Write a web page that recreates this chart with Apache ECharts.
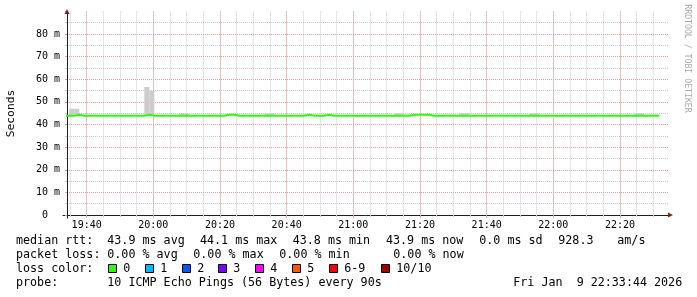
<!DOCTYPE html>
<html><head><meta charset="utf-8">
<script src="https://cdn.jsdelivr.net/npm/echarts@6/dist/echarts.min.js"></script>
<style>html,body{margin:0;padding:0;background:#fff}#c{width:697px;height:297px}</style>
</head><body><div id="c"></div>
<script>
// ---------------- data ----------------
// time axis is in minutes after 19:00; samples every 90 s
const sampleStartMin = 33.29;
const sampleStepMin = 1.5;
// median rtt per sample (ms)
const medianRtt = [
  43.9,43.9,44.3,43.9,43.9,43.9,43.9,43.9,43.9,43.9,
  43.9,43.9,43.9,43.9,43.9,43.9,44.3,43.9,43.9,43.9,
  43.9,43.9,43.9,43.9,43.9,43.9,43.9,43.9,43.9,43.9,
  43.9,43.9,44.3,44.3,43.9,43.9,43.9,43.9,43.9,43.9,
  43.9,43.9,43.9,43.9,43.9,43.9,43.9,43.9,44.3,43.9,
  43.9,43.9,44.3,43.9,43.9,43.9,43.9,43.9,43.9,43.9,
  43.9,43.9,43.9,43.9,43.9,43.9,43.9,43.9,43.9,44.3,
  44.3,44.3,44.3,43.9,43.9,43.9,43.9,43.9,43.9,43.9,
  43.9,43.9,43.9,43.9,43.9,43.9,43.9,43.9,43.9,43.9,
  43.9,43.9,43.9,43.9,43.9,43.9,43.9,43.9,43.9,43.9,
  43.9,43.9,43.9,43.9,43.9,43.9,43.9,43.9,43.9,43.9,
  43.9,43.9,43.9,43.9,43.9,43.9,43.9,43.9,43.9
];
// highest ping per sample (ms) - top of the smoke
const smokeMax = [
  43.9,47.0,47.0,43.9,43.9,43.9,43.9,43.9,43.9,43.9,
  43.9,43.9,43.9,43.9,43.9,43.9,56.6,54.9,43.9,43.9,
  43.9,43.9,43.9,44.9,44.9,43.9,43.9,43.9,43.9,43.9,
  43.9,43.9,43.9,43.9,43.9,43.9,43.9,43.9,43.9,43.9,
  45.0,45.0,43.9,43.9,43.9,43.9,43.9,43.9,43.9,43.9,
  43.9,43.9,43.9,43.9,43.9,43.9,43.9,43.9,43.9,43.9,
  43.9,43.9,43.9,43.9,43.9,43.9,45.0,45.0,43.9,43.9,
  43.9,43.9,43.9,43.9,43.9,43.9,43.9,43.9,43.9,45.0,
  45.0,43.9,43.9,43.9,43.9,43.9,43.9,43.9,43.9,43.9,
  43.9,43.9,43.9,45.0,45.0,43.9,43.9,43.9,43.9,43.9,
  43.9,43.9,43.9,43.9,43.9,43.9,43.9,43.9,43.9,43.9,
  43.9,43.9,43.9,43.9,45.0,45.0,43.9,43.9,43.9
];
const xRange = [34.1, 214.4];
const yRange = [0, 90];
const minorXTicks = [35, 210, 5];
const majorXTicks = [40, 200, 20];
const rttLabel = 'median rtt:';
const rttStats = ['43.9 ms avg','44.1 ms max','43.8 ms min','43.9 ms now','0.0 ms sd','928.3','am/s'];
const lossLabel = 'packet loss:';
const lossStats = ['0.00 % avg','0.00 % max','0.00 % min','0.00 % now'];
const lossColorLabel = 'loss color:';
const lossLabels = ['0','1','2','3','4','5','6-9','10/10'];
const lossColors = ['#26ff00','#00b8ff','#0059ff','#7e00ff','#ff00ff','#ff5500','#ff0000','#a00000'];
const probeLabel = 'probe:';
const probeText = '10 ICMP Echo Pings (56 Bytes) every 90s';
const dateText = 'Fri Jan  9 22:33:44 2026';
const yTitle = 'Seconds';
const watermark = 'RRDTOOL / TOBI OETIKER';

// ---------------- layout / style ----------------
const MONO = '"DejaVu Sans Mono", monospace';
const GRID_MINOR = '#cacaca';
const GRID_MAJOR = '#e99a9a';
const AXIS = '#1f1f1f';
const ARROW = '#801f1f';
const LINE = '#26ff00';
const SMOKE = '#cccccc';
const PX_PER_MIN = 601 / (xRange[1] - xRange[0]);
const PLOT_LEFT = 67, PLOT_TOP = 11.4, PLOT_H = 203.6;
const px = t => PLOT_LEFT + (t - xRange[0]) * PX_PER_MIN;
const rowY = [240.8, 254.8, 268.8, 282.8];
const rttX = [107.3, 200, 292.7, 386, 479.3, 558.3, 617.3];
const lossX = [107.3, 193.3, 279.3, 393.3];
const boxX = [108.5, 145.5, 182.5, 218.5, 255.5, 292.5, 329.5, 381.5];
const TXT = 11.7;

const fmtTime = v => (19 + Math.floor(v / 60)) + ':' + String(v % 60).padStart(2, '0');

const times = medianRtt.map((_, i) => sampleStartMin + i * sampleStepMin);
const lineData = medianRtt.map((v, i) => [times[i], v]);
lineData.push([times[times.length - 1] + sampleStepMin, medianRtt[medianRtt.length - 1]]);
const smokeData = smokeMax.map((v, i) => [times[i], times[i] + sampleStepMin, medianRtt[i], v])
  .filter(d => d[3] > d[2]);

function txt(text, x, y, extra) {
  return Object.assign({ type: 'text', x: x, y: y, silent: true,
    style: Object.assign({ text: text, font: TXT + 'px ' + MONO, fill: '#000', verticalAlign: 'middle', align: 'left' }, extra || {}) });
}
const graphics = [];
graphics.push(txt(rttLabel, 16, rowY[0]));
rttStats.forEach((s, i) => graphics.push(txt(s, rttX[i], rowY[0])));
graphics.push(txt(lossLabel, 16, rowY[1]));
lossStats.forEach((s, i) => graphics.push(txt(s, lossX[i], rowY[1])));
graphics.push(txt(lossColorLabel, 16, rowY[2]));
lossLabels.forEach((s, i) => {
  graphics.push({ type: 'rect', silent: true, shape: { x: boxX[i], y: 264.5, width: 8, height: 8 },
    style: { fill: lossColors[i], stroke: '#000', lineWidth: 1 } });
  graphics.push(txt(s, boxX[i] + 14.8, rowY[2]));
});
graphics.push(txt(probeLabel, 16, rowY[3]));
graphics.push(txt(probeText, 107.3, rowY[3]));
graphics.push(txt(dateText, 513.3, rowY[3]));
graphics.push({ type: 'text', x: 10.7, y: 113.5, rotation: Math.PI / 2, silent: true,
  style: { text: yTitle, font: '11.3px ' + MONO, fill: '#000', align: 'center', verticalAlign: 'middle' } });
graphics.push({ type: 'text', x: 687.5, y: 58.5, rotation: -Math.PI / 2, silent: true,
  style: { text: watermark, font: '8.2px ' + MONO, fill: '#ababab', align: 'center', verticalAlign: 'middle' } });

const gridBase = { top: PLOT_TOP, height: PLOT_H, outerBoundsMode: 'none', containLabel: false };
const off = { show: false };
const hiddenY = (g) => ({ type: 'value', gridIndex: g, min: 0, max: 1, show: false });

const option = {
  backgroundColor: '#ffffff',
  animation: false,
  grid: [
    Object.assign({ left: PLOT_LEFT, width: 601 }, gridBase),
    Object.assign({ left: px(minorXTicks[0]), width: px(minorXTicks[1]) - px(minorXTicks[0]) }, gridBase),
    Object.assign({ left: px(majorXTicks[0]), width: px(majorXTicks[1]) - px(majorXTicks[0]) }, gridBase),
    { left: 63, width: 605, top: PLOT_TOP, height: 218 - PLOT_TOP, outerBoundsMode: 'none', containLabel: false }
  ],
  xAxis: [
    { type: 'value', gridIndex: 0, min: xRange[0], max: xRange[1], show: false },
    { type: 'value', gridIndex: 1, position: 'bottom', min: minorXTicks[0], max: minorXTicks[1], interval: minorXTicks[2],
      axisLine: { show: false, onZero: false }, axisLabel: off,
      axisTick: { show: true, length: 2, lineStyle: { color: GRID_MINOR } },
      splitLine: { show: true, showMinLine: true, showMaxLine: true, lineStyle: { color: GRID_MINOR, width: 1, type: [1, 1] } } },
    { type: 'value', gridIndex: 2, position: 'bottom', min: majorXTicks[0], max: majorXTicks[1], interval: majorXTicks[2],
      axisLine: { show: false, onZero: false },
      axisTick: { show: true, length: 3, lineStyle: { color: GRID_MAJOR } },
      axisLabel: { show: true, formatter: fmtTime, margin: 5, fontSize: 10, fontFamily: MONO, color: '#000',
        showMinLabel: true, showMaxLabel: true, hideOverlap: false },
      splitLine: { show: true, showMinLine: true, showMaxLine: true, lineStyle: { color: GRID_MAJOR, width: 1, type: [1, 1] } } },
    { type: 'value', gridIndex: 3, position: 'bottom', offset: -3, min: 0, max: 1,
      axisLine: { show: true, onZero: false, lineStyle: { color: AXIS, width: 1 } },
      axisTick: off, axisLabel: off, splitLine: off },
    { type: 'value', gridIndex: 3, position: 'bottom', offset: -3, min: 0, max: 1,
      axisLine: { show: true, onZero: false, symbol: ['none', 'triangle'], symbolSize: [5, 5], symbolOffset: [0, 2.5],
        lineStyle: { color: ARROW, width: 0 } },
      axisTick: off, axisLabel: off, splitLine: off }
  ],
  yAxis: [
    { type: 'value', gridIndex: 0, position: 'left', min: yRange[0], max: yRange[1], interval: 5,
      axisLine: { show: false, onZero: false }, axisLabel: off,
      axisTick: { show: true, length: 2, lineStyle: { color: GRID_MINOR } },
      splitLine: { show: true, showMinLine: false, showMaxLine: false, lineStyle: { color: GRID_MINOR, width: 1, type: [1, 1] } } },
    { type: 'value', gridIndex: 0, position: 'left', min: yRange[0], max: yRange[1], interval: 10,
      axisLine: { show: false, onZero: false },
      axisTick: { show: true, length: 2, lineStyle: { color: GRID_MAJOR } },
      axisLabel: { show: true, margin: 7, fontSize: 10, fontFamily: MONO, color: '#000',
        showMinLabel: true, showMaxLabel: false, hideOverlap: false,
        formatter: v => v === 0 ? '0  ' : v + ' m' },
      splitLine: { show: true, showMinLine: false, showMaxLine: false, lineStyle: { color: GRID_MAJOR, width: 1, type: [1, 1] } } },
    hiddenY(1),
    hiddenY(2),
    { type: 'value', gridIndex: 3, position: 'left', offset: -4, min: 0, max: 1,
      axisLine: { show: true, onZero: false, lineStyle: { color: AXIS, width: 1 } },
      axisTick: off, axisLabel: off, splitLine: off },
    { type: 'value', gridIndex: 3, position: 'left', offset: -4, min: 0, max: 1,
      axisLine: { show: true, onZero: false, symbol: ['none', 'triangle'], symbolSize: [5, 5], symbolOffset: [0, 0],
        lineStyle: { color: ARROW, width: 0 } },
      axisTick: off, axisLabel: off, splitLine: off }
  ],
  series: [
    { type: 'custom', name: 'smoke', xAxisIndex: 0, yAxisIndex: 0, clip: true, silent: true, z: 2,
      encode: { x: [0, 1], y: [2, 3] },
      data: smokeData,
      renderItem: function (params, api) {
        const a = api.coord([api.value(0), api.value(3)]);
        const b = api.coord([api.value(1), api.value(2)]);
        return { type: 'rect', shape: { x: a[0], y: a[1], width: b[0] - a[0], height: b[1] - a[1] },
          style: { fill: SMOKE } };
      } },
    { type: 'line', name: 'median', xAxisIndex: 0, yAxisIndex: 0, step: 'end', symbol: 'none', showSymbol: false,
      silent: true, z: 3, clip: true, data: lineData,
      lineStyle: { color: LINE, width: 2 } }
  ],
  graphic: graphics
};

const chart = echarts.init(document.getElementById('c'), null, { renderer: 'canvas', width: 697, height: 297 });
chart.setOption(option);
</script>
</body></html>
